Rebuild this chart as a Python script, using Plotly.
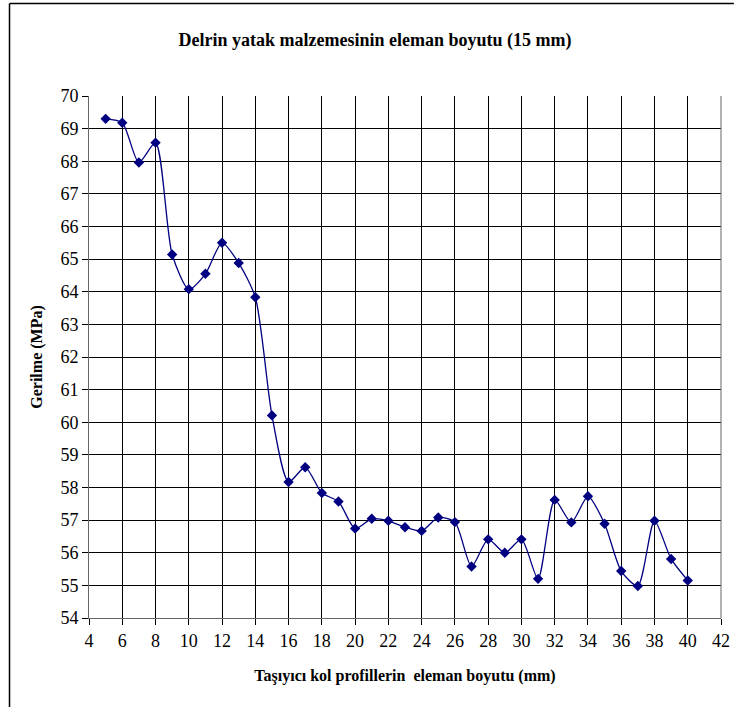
import plotly.graph_objects as go

x_size = list(range(5, 41))
stress = [69.3, 69.18, 67.96, 68.57, 65.14, 64.08, 64.55, 65.5, 64.88, 63.83,
          60.21, 58.17, 58.62, 57.83, 57.57, 56.74, 57.04, 56.98, 56.78, 56.67,
          57.08, 56.94, 55.58, 56.41, 56.0, 56.41, 55.2, 57.62, 56.93, 57.73,
          56.89, 55.44, 54.98, 56.98, 55.81, 55.15]

x_ticks = list(range(4, 43, 2))
y_ticks = list(range(54, 71, 1))

title = "Delrin yatak malzemesinin eleman boyutu (15 mm)"
x_title = "Taşıyıcı kol profillerin  eleman boyutu (mm)"
y_title = "Gerilme (MPa)"

W, H = 742, 707
L, R, T, B = 89, 13, 96, 89
pw, ph = W - L - R, H - T - B

fig = go.Figure()
fig.add_trace(go.Scatter(
    x=x_size, y=stress, mode="lines+markers",
    line=dict(color="#000080", width=1.3, shape="spline", smoothing=0.7),
    marker=dict(symbol="diamond", size=8, color="#000080"),
    showlegend=False,
))

serif = "Liberation Serif"
fig.update_layout(
    width=W, height=H,
    margin=dict(l=L, r=R, t=T, b=B),
    paper_bgcolor="white", plot_bgcolor="white",
    font=dict(family=serif, color="black"),
    title=dict(text="<b>" + title + "</b>", x=375 / W, xanchor="center",
               y=1 - 40 / H, yanchor="middle", font=dict(size=18, family=serif)),
    xaxis=dict(range=[4, 42], tickvals=x_ticks, ticktext=[str(v) for v in x_ticks],
               showgrid=True, gridcolor="black", gridwidth=1,
               showline=True, linecolor="#666", linewidth=1, mirror=False,
               ticks="outside", ticklen=6, tickcolor="black",
               tickfont=dict(size=18, family=serif), zeroline=False,
               title=dict(text="<b>" + x_title + "</b>", font=dict(size=16, family=serif),
                          standoff=20)),
    yaxis=dict(range=[54, 70], tickvals=y_ticks, ticktext=[str(v) for v in y_ticks],
               showgrid=True, gridcolor="black", gridwidth=1,
               showline=True, linecolor="#666", linewidth=1,
               ticks="outside", ticklen=6, tickcolor="black",
               tickfont=dict(size=18, family=serif), zeroline=False,
               title=dict(text="<b>" + y_title + "</b>", font=dict(size=16, family=serif),
                          standoff=13)),
)

# right boundary gridline (x=42) and outer frame (top + left lines)
fig.add_shape(type="line", xref="paper", yref="paper", x0=1, x1=1, y0=0, y1=1,
              line=dict(color="#666", width=1))
fx = (8.5 - L) / pw
fy = 1 + (T - 3.5) / ph
fig.add_shape(type="line", xref="paper", yref="paper", x0=fx, x1=(W - L) / pw,
              y0=fy, y1=fy, line=dict(color="black", width=1.5))
fig.add_shape(type="line", xref="paper", yref="paper", x0=fx, x1=fx,
              y0=fy, y1=-(B) / ph, line=dict(color="black", width=1.5))

fig.write_html("out.html", config={"displayModeBar": False},
               post_script="document.body.style.margin='0';document.body.style.overflow='hidden';")
